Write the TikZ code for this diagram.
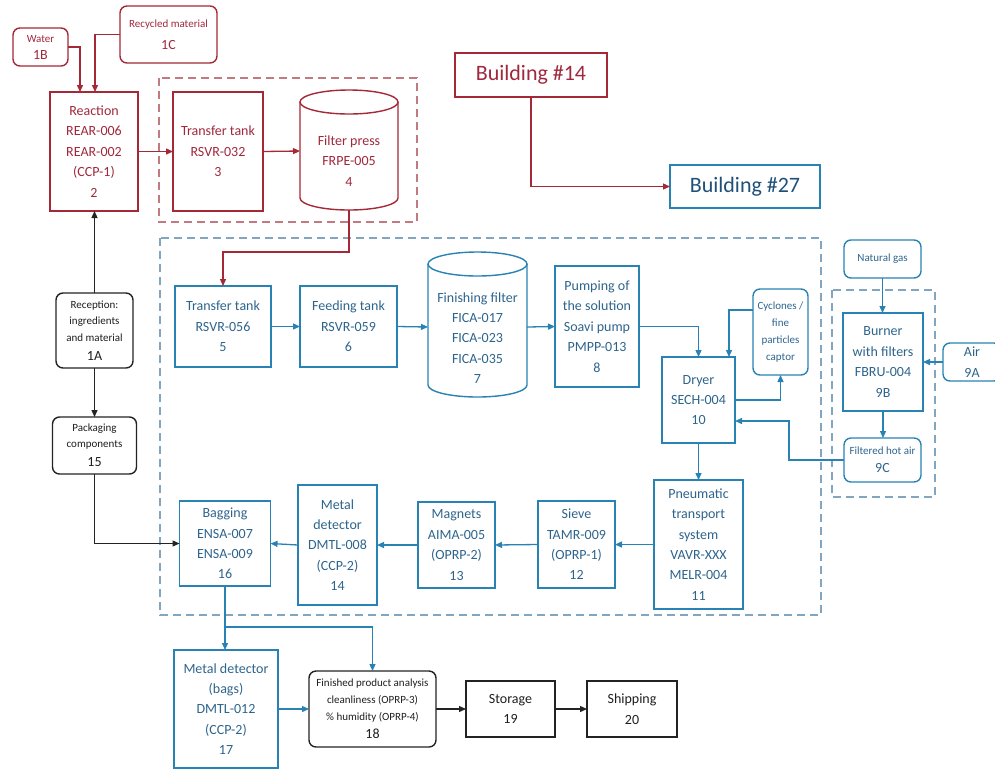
\documentclass[tikz,border=0pt]{standalone}
\usepackage{fontspec}
\setmainfont{Carlito}
\usetikzlibrary{arrows.meta}
\definecolor{redc}{RGB}{165,40,55}
\definecolor{redt}{RGB}{160,40,60}
\definecolor{redd}{RGB}{192,122,128}
\definecolor{bluec}{RGB}{40,130,180}
\definecolor{bluet}{RGB}{45,100,140}
\definecolor{blued}{RGB}{130,165,192}
\definecolor{navyt}{RGB}{30,80,120}
\definecolor{blackc}{RGB}{35,35,35}
\definecolor{blackt}{RGB}{30,30,30}
\newcommand{\nm}{\fontsize{14}{17}\selectfont}
\begin{document}
\begin{tikzpicture}[x=1pt,y=-1pt,
  every node/.style={inner sep=0pt, outer sep=0pt, align=center, font=\fontsize{14}{20.4}\selectfont},
  smallfont/.style={font=\fontsize{11}{#1}\selectfont},
  rbox/.style={draw=redc, line width=1.4pt, text=redt},
  bbox/.style={draw=bluec, line width=1.4pt, text=bluet},
  kbox/.style={draw=blackc, line width=1.4pt, text=blackt},
  rnd/.style={rounded corners=7pt},
  sz/.style 2 args={minimum width=#1, minimum height=#2},
  tip/.style={-{Triangle[length=7pt,width=6pt]}},
  ra/.style={draw=redc, line width=1.3pt, tip},
  ba/.style={draw=bluec, line width=1.3pt, tip},
  ka/.style={draw=blackc, line width=1.3pt, tip},
  rdash/.style={draw=redd, line width=2pt, dash pattern=on 8pt off 5pt},
  bdash/.style={draw=blued, line width=2pt, dash pattern=on 8pt off 5pt},
  cyl/.style={line width=1.4pt}
]
\useasboundingbox (0,0) rectangle (995,769);

% dashed groups
\draw[rdash] (159,78) rectangle (417,222);
\draw[bdash] (160,238) rectangle (821,615);
\draw[bdash] (832,290) rectangle (935,497);

% red area
\node[rbox,rnd,sz={55pt}{38pt},smallfont=17] (water) at (40.5,47) {Water\\{\nm 1B}};
\node[rbox,rnd,sz={97pt}{57pt},smallfont=17] (recyc) at (168.5,34.5) {Recycled material\\[5pt]{\nm 1C}};
\node[rbox,sz={88pt}{119pt}] (reaction) at (94,151.5) {Reaction\\REAR-006\\REAR-002\\(CCP-1)\\2};
\node[rbox,sz={90pt}{119pt}] (tt3) at (218,151.5) {Transfer tank\\RSVR-032\\3};
\node[sz={98pt}{118pt}] (fp) at (349,151) {};
\draw[redc,cyl] (300,102) -- (300,198) arc[start angle=180,end angle=0,x radius=49,y radius=12] -- (398,102);
\draw[redc,cyl] (349,102) ellipse[x radius=49,y radius=12];
\node[text=redt] (fptext) at (349,161) {Filter press\\FRPE-005\\4};

\node[rbox,sz={152pt}{44pt},font=\fontsize{22}{26}\selectfont] (b14) at (531,75) {Building \#14};
\node[bbox,sz={150pt}{43pt},text=navyt,font=\fontsize{22}{26}\selectfont] (b27) at (745,186.5) {Building \#27};

% blue area, upper row
\node[bbox,sz={96pt}{81pt}] (tt5) at (223,326.5) {Transfer tank\\RSVR-056\\5};
\node[bbox,sz={97pt}{81pt}] (ft6) at (348.5,326.5) {Feeding tank\\RSVR-059\\6};
\node[sz={99pt}{120pt}] (ff7) at (477.5,327) {};
\draw[bluec,cyl] (428,264) -- (428,385) arc[start angle=180,end angle=0,x radius=49.5,y radius=12] -- (527,264);
\draw[bluec,cyl] (477.5,264) ellipse[x radius=49.5,y radius=12];
\node[text=bluet] (ff7text) at (477.5,338) {Finishing filter\\FICA-017\\FICA-023\\FICA-035\\7};
\node[bbox,sz={84pt}{121pt}] (pump) at (597,326.5) {Pumping of\\the solution\\Soavi pump\\PMPP-013\\8};
\node[bbox,sz={73pt}{86pt}] (dryer) at (698.5,400) {Dryer\\SECH-004\\10};
\node[bbox,rnd,sz={55pt}{86pt},smallfont=17] (cyc) at (780.5,332) {Cyclones /\\fine\\particles\\captor};

% burner group
\node[bbox,rnd,sz={77pt}{38pt},smallfont=17] (ng) at (882.5,259) {Natural gas};
\node[bbox,sz={80pt}{98pt}] (burner) at (883,362) {Burner\\with filters\\FBRU-004\\9B};
\node[bbox,rnd,sz={58pt}{38pt}] (air) at (972,362) {Air\\9A};
\node[bbox,rnd,sz={77pt}{44pt},smallfont=18] (hot) at (882.5,460) {Filtered hot air\\{\nm 9C}};

% blue area, lower row
\node[bbox,sz={89pt}{129pt}] (pn) at (698.5,544.5) {Pneumatic\\transport\\system\\VAVR-XXX\\MELR-004\\11};
\node[bbox,sz={77pt}{87pt}] (sieve) at (576.5,544.5) {Sieve\\TAMR-009\\(OPRP-1)\\12};
\node[bbox,sz={77pt}{86pt}] (mag) at (456.5,545) {Magnets\\AIMA-005\\(OPRP-2)\\13};
\node[bbox,sz={79pt}{120pt}] (md14) at (337.5,545) {Metal\\detector\\DMTL-008\\(CCP-2)\\14};
\node[bbox,sz={91pt}{85pt}] (bag) at (225,543.5) {Bagging\\ENSA-007\\ENSA-009\\16};

% left column
\node[kbox,rnd,sz={77pt}{75pt},smallfont=16.5] (rec) at (94.5,330.5) {Reception:\\ingredients\\and material\\[2.5pt]{\nm 1A}};
\node[kbox,rnd,sz={84pt}{57pt},smallfont=16] (pack) at (94.5,445.5) {Packaging\\components\\[3pt]{\nm 15}};

% bottom row
\node[bbox,sz={104pt}{118pt}] (md17) at (226,709) {Metal detector\\(bags)\\DMTL-012\\(CCP-2)\\17};
\node[kbox,rnd,sz={127pt}{76pt},smallfont=17] (fin) at (372.5,709) {Finished product analysis\\cleanliness (OPRP-3)\\\% humidity (OPRP-4)\\[1pt]{\nm 18}};
\node[kbox,sz={89pt}{56pt}] (stor) at (510.5,709) {Storage\\19};
\node[kbox,sz={90pt}{56pt}] (ship) at (632,709) {Shipping\\20};

% connectors: red
\draw[ra] (water.east) -| ([xshift=-14pt]reaction.north);
\draw[ra] (recyc.west) -| ([xshift=1pt]reaction.north);
\draw[ra] (reaction.east) -- (tt3.west);
\draw[ra] (tt3.east) -- (fp.west);
\draw[ra] (fp.south) -- ++(0,42) -| (tt5.north);
\draw[ra] (b14.south) |- (b27.west);

% connectors: blue
\draw[ba] (tt5.east) -- (ft6.west);
\draw[ba] (ft6.east) -- (ff7.west);
\draw[ba] (ff7.east) -- (pump.west);
\draw[ba] (pump.east) -| (dryer.north);
\draw[ba] ([yshift=22pt]cyc.west) -| ([xshift=30.5pt]dryer.north);
\draw[ba] (dryer.east) -| (cyc.south);
\draw[ba] (ng.south) -- (ng.south |- burner.north);
\draw[ba] (air.west) -- (burner.east);
\draw[ba] (burner.south) -- (burner.south |- hot.north);
\draw[ba] (hot.west) -- ++(-55,0) |- ([yshift=-21pt]dryer.east);
\draw[ba] (dryer.south) -- (pn.north);
\draw[ba] (pn.west) -- (sieve.east);
\draw[ba] (sieve.west) -- (mag.east);
\draw[ba] (mag.west) -- (md14.east);
\draw[ba] (md14.west) -- (bag.east);
\draw[ba] (bag.south) -- (bag.south |- md17.north);
\draw[ba] (bag.south) -- ++(0,41) -| (fin.north);
\draw[ba] (md17.east) -- (fin.west);

% connectors: black
\draw[ka] (rec.north) -- (rec.north |- reaction.south);
\draw[ka] (rec.south) -- (rec.south |- pack.north);
\draw[ka] (pack.south) |- (bag.west);
\draw[ka] (fin.east) -- (stor.west);
\draw[ka] (stor.east) -- (ship.west);
\end{tikzpicture}
\end{document}
